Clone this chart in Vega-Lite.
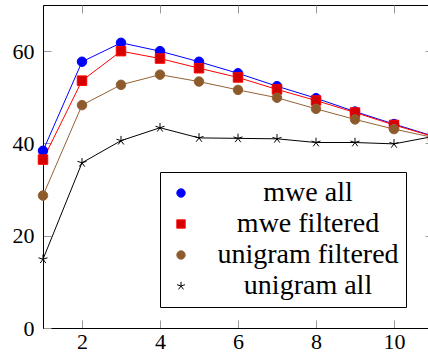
{
  "$schema": "https://vega.github.io/schema/vega-lite/v6.json",
  "width": 390,
  "height": 323,
  "autosize": {"type": "none"},
  "padding": {"left": 43, "top": 5, "right": 0, "bottom": 28},
  "config": {
    "view": {"stroke": "#000000", "strokeWidth": 1},
    "axis": {
      "grid": false,
      "labelFont": "Liberation Serif, Times New Roman, serif",
      "labelFontSize": 22,
      "labelColor": "#000000",
      "domain": false,
      "tickColor": "#999999",
      "tickSize": -8,
      "tickWidth": 1,
      "title": null
    },
    "legend": {
      "orient": "none", "legendX": 117, "legendY": 167,
      "padding": 7, "rowPadding": 3,
      "strokeColor": "#000000", "fillColor": "#ffffff",
      "symbolSize": 70, "symbolStrokeWidth": 1,
      "labelFont": "Liberation Serif, Times New Roman, serif", "labelFontSize": 28, "labelColor": "#000000",
      "labelAlign": "center", "labelOffset": 113, "labelLimit": 0
    }
  },
  "data": {
    "values": [
      {"x": 1, "series": "mwe all", "y": 38.4},
      {"x": 2, "series": "mwe all", "y": 57.7},
      {"x": 3, "series": "mwe all", "y": 61.8},
      {"x": 4, "series": "mwe all", "y": 60.0},
      {"x": 5, "series": "mwe all", "y": 57.7},
      {"x": 6, "series": "mwe all", "y": 55.2},
      {"x": 7, "series": "mwe all", "y": 52.4},
      {"x": 8, "series": "mwe all", "y": 49.8},
      {"x": 9, "series": "mwe all", "y": 46.9},
      {"x": 10, "series": "mwe all", "y": 44.2},
      {"x": 11, "series": "mwe all", "y": 41.6},
      {"x": 1, "series": "mwe filtered", "y": 36.5},
      {"x": 2, "series": "mwe filtered", "y": 53.6},
      {"x": 3, "series": "mwe filtered", "y": 60.0},
      {"x": 4, "series": "mwe filtered", "y": 58.4},
      {"x": 5, "series": "mwe filtered", "y": 56.3},
      {"x": 6, "series": "mwe filtered", "y": 54.3},
      {"x": 7, "series": "mwe filtered", "y": 51.7},
      {"x": 8, "series": "mwe filtered", "y": 49.3},
      {"x": 9, "series": "mwe filtered", "y": 46.7},
      {"x": 10, "series": "mwe filtered", "y": 44.0},
      {"x": 11, "series": "mwe filtered", "y": 41.5},
      {"x": 1, "series": "unigram filtered", "y": 28.7},
      {"x": 2, "series": "unigram filtered", "y": 48.3},
      {"x": 3, "series": "unigram filtered", "y": 52.7},
      {"x": 4, "series": "unigram filtered", "y": 54.9},
      {"x": 5, "series": "unigram filtered", "y": 53.4},
      {"x": 6, "series": "unigram filtered", "y": 51.6},
      {"x": 7, "series": "unigram filtered", "y": 49.9},
      {"x": 8, "series": "unigram filtered", "y": 47.5},
      {"x": 9, "series": "unigram filtered", "y": 45.2},
      {"x": 10, "series": "unigram filtered", "y": 43.1},
      {"x": 11, "series": "unigram filtered", "y": 41.3},
      {"x": 1, "series": "unigram all", "y": 14.9},
      {"x": 2, "series": "unigram all", "y": 35.8},
      {"x": 3, "series": "unigram all", "y": 40.6},
      {"x": 4, "series": "unigram all", "y": 43.4},
      {"x": 5, "series": "unigram all", "y": 41.2},
      {"x": 6, "series": "unigram all", "y": 41.1},
      {"x": 7, "series": "unigram all", "y": 41.0},
      {"x": 8, "series": "unigram all", "y": 40.2},
      {"x": 9, "series": "unigram all", "y": 40.2},
      {"x": 10, "series": "unigram all", "y": 39.9},
      {"x": 11, "series": "unigram all", "y": 41.5}
    ]
  },
  "resolve": {"axis": {"x": "independent", "y": "independent"}},
  "layer": [
    {
      "mark": {"type": "line", "strokeWidth": 1},
      "encoding": {
        "x": {"field": "x", "type": "quantitative", "scale": {"domain": [1, 11], "nice": false, "zero": false},
              "axis": {"values": [2, 4, 6, 8, 10], "labelPadding": 11, "domain": true, "domainColor": "#000000"}},
        "y": {"field": "y", "type": "quantitative", "scale": {"domain": [0, 70], "nice": false},
              "axis": {"values": [0, 20, 40, 60], "labelPadding": 17, "domain": true, "domainColor": "#000000"}},
        "stroke": {"field": "series", "type": "nominal", "title": null,
                   "scale": {"domain": ["mwe all", "mwe filtered", "unigram filtered", "unigram all"],
                             "range": ["#0000ff", "#ff0000", "#946235", "#000000"]}},
        "detail": {"field": "series"}
      }
    },
    {
      "mark": {"type": "point", "filled": true, "strokeWidth": 1, "opacity": 1, "size": 90},
      "encoding": {
        "x": {"field": "x", "type": "quantitative", "axis": {"orient": "top", "values": [2, 4, 6, 8, 10], "labels": false}},
        "y": {"field": "y", "type": "quantitative", "axis": {"orient": "right", "values": [20, 40, 60], "labels": false}},
        "stroke": {"field": "series", "type": "nominal", "title": null},
        "fill": {"field": "series", "type": "nominal", "title": null,
                 "scale": {"domain": ["mwe all", "mwe filtered", "unigram filtered", "unigram all"],
                           "range": ["#0000ff", "#d40000", "#8c5a2b", "#000000"]}},
        "shape": {"field": "series", "type": "nominal", "title": null,
                  "scale": {"domain": ["mwe all", "mwe filtered", "unigram filtered", "unigram all"],
                            "range": ["circle", "square", "circle", "M0,-1L0,0M0.951,-0.309L0,0M0.588,0.809L0,0M-0.588,0.809L0,0M-0.951,-0.309L0,0"]}}
      }
    }
  ]
}
